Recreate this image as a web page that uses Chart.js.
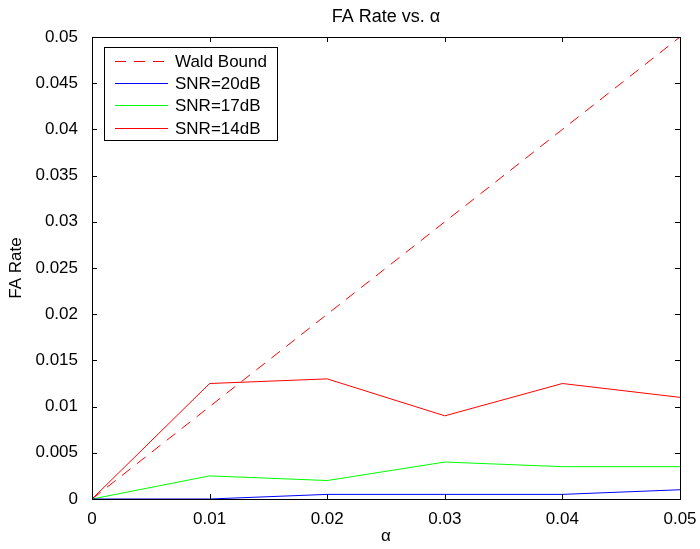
<!DOCTYPE html>
<html>
<head>
<meta charset="utf-8">
<script src="https://cdn.jsdelivr.net/npm/chart.js@4/dist/chart.umd.min.js"></script>
<style>
    body { margin: 0; background: #fff; }
    #wrap { width: 700px; height: 549px; }
</style>
</head>
<body>
<div id="wrap"><canvas id="faChart" width="700" height="549"></canvas></div>
<script>
// Data
const alphaValues = [0, 0.01, 0.02, 0.03, 0.04, 0.05];
const waldBound = [0, 0.05];
const waldAlpha = [0, 0.05];
const snr20 = [0, 0, 0.0005, 0.0005, 0.0005, 0.001];
const snr17 = [0, 0.0025, 0.002, 0.004, 0.0035, 0.0035];
const snr14 = [0, 0.0125, 0.013, 0.009, 0.0125, 0.011];
const seriesNames = ['Wald Bound', 'SNR=20dB', 'SNR=17dB', 'SNR=14dB'];
const xTickLabels = ['0', '0.01', '0.02', '0.03', '0.04', '0.05'];
const yTickLabels = ['0', '0.005', '0.01', '0.015', '0.02', '0.025', '0.03', '0.035', '0.04', '0.045', '0.05'];

const FONT = '"Liberation Sans", Arial, Helvetica, sans-serif';
const seriesColors = ['#ff0000', '#0000ff', '#00ff00', '#ff0000'];
const seriesDash = [[11, 8], [], [], []];

function toPoints(xs, ys) {
    return xs.map((x, i) => ({ x: x, y: ys[i] }));
}

// box around plot area with inward ticks (matlab style), plus the legend
const boxPlugin = {
    id: 'boxPlugin',
    afterDraw(chart) {
        const ctx = chart.ctx;
        const a = chart.chartArea;
        const xs = chart.scales.x;
        const ys = chart.scales.y;
        const len = 5;
        ctx.save();
        ctx.strokeStyle = '#000';
        ctx.lineWidth = 1;
        ctx.beginPath();
        xs.ticks.forEach(t => {
            const px = Math.round(xs.getPixelForValue(t.value)) + 0.5;
            ctx.moveTo(px, a.bottom);
            ctx.lineTo(px, a.bottom - len);
            ctx.moveTo(px, a.top);
            ctx.lineTo(px, a.top + len);
        });
        ys.ticks.forEach(t => {
            const py = Math.round(ys.getPixelForValue(t.value)) + 0.5;
            ctx.moveTo(a.left, py);
            ctx.lineTo(a.left + len, py);
            ctx.moveTo(a.right, py);
            ctx.lineTo(a.right - len, py);
        });
        ctx.stroke();
        ctx.strokeRect(Math.round(a.left) + 0.5, Math.round(a.top) + 0.5,
            Math.round(a.right - a.left), Math.round(a.bottom - a.top));

        const lx = a.left + 12, ly = a.top + 10, lw = 173, lh = 93;
        ctx.fillStyle = '#fff';
        ctx.fillRect(lx, ly, lw, lh);
        ctx.strokeRect(Math.round(lx) + 0.5, Math.round(ly) + 0.5, lw, lh);
        ctx.font = '17px ' + FONT;
        ctx.textBaseline = 'middle';
        seriesNames.forEach((name, i) => {
            const rowY = Math.round(ly + 14 + i * 22.2) + 0.5;
            ctx.beginPath();
            ctx.strokeStyle = seriesColors[i];
            ctx.lineWidth = 1;
            ctx.setLineDash(seriesDash[i]);
            ctx.moveTo(lx + 11, rowY);
            ctx.lineTo(lx + 64, rowY);
            ctx.stroke();
            ctx.setLineDash([]);
            ctx.fillStyle = '#000';
            ctx.fillText(name, lx + 71, rowY + 1);
        });
        ctx.restore();
    }
};

const ctx = document.getElementById('faChart').getContext('2d');
new Chart(ctx, {
    type: 'line',
    data: {
        datasets: [
            {
                label: seriesNames[0],
                data: toPoints(waldAlpha, waldBound),
                borderColor: seriesColors[0],
                borderDash: seriesDash[0],
                borderWidth: 1
            },
            {
                label: seriesNames[1],
                data: toPoints(alphaValues, snr20),
                borderColor: seriesColors[1],
                borderWidth: 1
            },
            {
                label: seriesNames[2],
                data: toPoints(alphaValues, snr17),
                borderColor: seriesColors[2],
                borderWidth: 1
            },
            {
                label: seriesNames[3],
                data: toPoints(alphaValues, snr14),
                borderColor: seriesColors[3],
                borderWidth: 1
            }
        ]
    },
    options: {
        responsive: false,
        animation: false,
        layout: { padding: { left: 0, right: 20, top: 0, bottom: 0 } },
        elements: {
            point: { radius: 0 },
            line: { tension: 0 }
        },
        plugins: {
            legend: { display: false },
            tooltip: { enabled: false },
            title: {
                display: true,
                fullSize: false,
                text: 'FA Rate vs. α',
                color: '#000',
                font: { family: FONT, size: 18, weight: 'normal' },
                padding: { top: 6, bottom: 9.4 }
            }
        },
        scales: {
            x: {
                type: 'linear',
                min: 0,
                max: 0.05,
                afterFit: s => { s.height = 50; },
                grid: { display: false },
                border: { display: false },
                ticks: {
                    stepSize: 0.01,
                    padding: 2,
                    color: '#000',
                    maxRotation: 0,
                    font: { family: FONT, size: 17 },
                    callback: (v, i) => xTickLabels[i]
                },
                title: {
                    display: true,
                    text: 'α',
                    color: '#000',
                    font: { family: FONT, size: 17 },
                    padding: { top: 0, bottom: 2 }
                }
            },
            y: {
                min: 0,
                max: 0.05,
                afterFit: s => { s.width = 92; },
                grid: { display: false },
                border: { display: false },
                ticks: {
                    stepSize: 0.005,
                    padding: 6,
                    color: '#000',
                    font: { family: FONT, size: 17 },
                    callback: (v, i) => yTickLabels[i]
                },
                title: {
                    display: true,
                    text: 'FA Rate',
                    color: '#000',
                    font: { family: FONT, size: 17 },
                    padding: { top: 6, bottom: 0 }
                }
            }
        }
    },
    plugins: [boxPlugin]
});
</script>
</body>
</html>
